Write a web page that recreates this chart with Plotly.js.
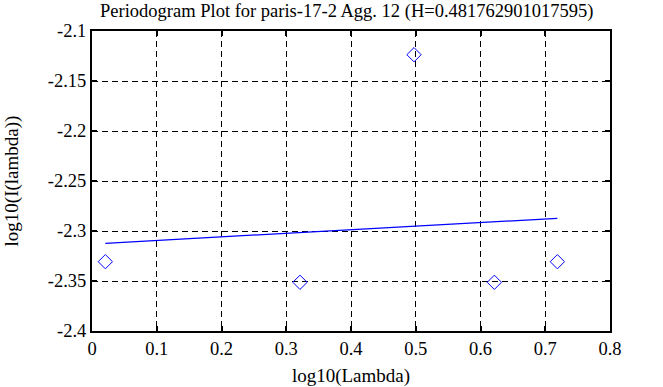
<!DOCTYPE html>
<html><head><meta charset="utf-8">
<script src="https://cdn.plot.ly/plotly-3.0.1.min.js"></script>
<style>html,body{margin:0;padding:0;background:#fff}#c{width:663px;height:387px}</style>
</head><body><div id="c"></div>
<script>
const logLambda = [0.0206, 0.3212, 0.4973, 0.6214, 0.7187];
const logI = [-2.3307, -2.3513, -2.1237, -2.3513, -2.3307];
const fitX = [0.0206, 0.7187];
const fitY = [-2.3123, -2.2873];
const xTicks = [0, 0.1, 0.2, 0.3, 0.4, 0.5, 0.6, 0.7, 0.8];
const yTicks = [-2.4, -2.35, -2.3, -2.25, -2.2, -2.15, -2.1];

const FAM = 'Liberation Serif';
function axis(extra) {
  return Object.assign({
    tickmode: 'array',
    showline: true, linecolor: '#000', linewidth: 2, mirror: 'ticks',
    ticks: 'inside', ticklen: 5, tickwidth: 2, tickcolor: '#000',
    showgrid: true, gridcolor: '#000', gridwidth: 1, griddash: '6px,4px', zeroline: false,
    tickfont: {family: FAM, size: 18.5, color: '#000'}
  }, extra);
}
Plotly.newPlot('c', [
  {x: logLambda, y: logI, mode: 'markers', type: 'scatter',
   marker: {symbol: 'diamond-open', size: 11, color: '#0000ff', line: {width: 1, color: '#0000ff'}}},
  {x: fitX, y: fitY, mode: 'lines', type: 'scatter', line: {color: '#0000ff', width: 1.3}}
], {
  width: 663, height: 387, showlegend: false,
  font: {family: FAM, color: '#000', size: 18},
  paper_bgcolor: '#fff', plot_bgcolor: '#fff',
  margin: {l: 92, r: 53, t: 31, b: 56},
  title: {text: 'Periodogram Plot for paris-17-2 Agg. 12 (H=0.481762901017595)',
          font: {family: FAM, size: 18.5, color: '#000'}, x: 0.523, xanchor: 'center', y: 0.972, yanchor: 'middle'},
  xaxis: axis({range: [0, 0.8], tickvals: xTicks, ticktext: xTicks.map(String),
    title: {text: 'log10(Lambda)', font: {family: FAM, size: 19, color: '#000'}, standoff: 10}}),
  yaxis: axis({range: [-2.4, -2.1], tickvals: yTicks, ticktext: yTicks.map(String),
    title: {text: 'log10(I(lambda))', font: {family: FAM, size: 19, color: '#000'}, standoff: 24}})
}, {staticPlot: true});
</script></body></html>
